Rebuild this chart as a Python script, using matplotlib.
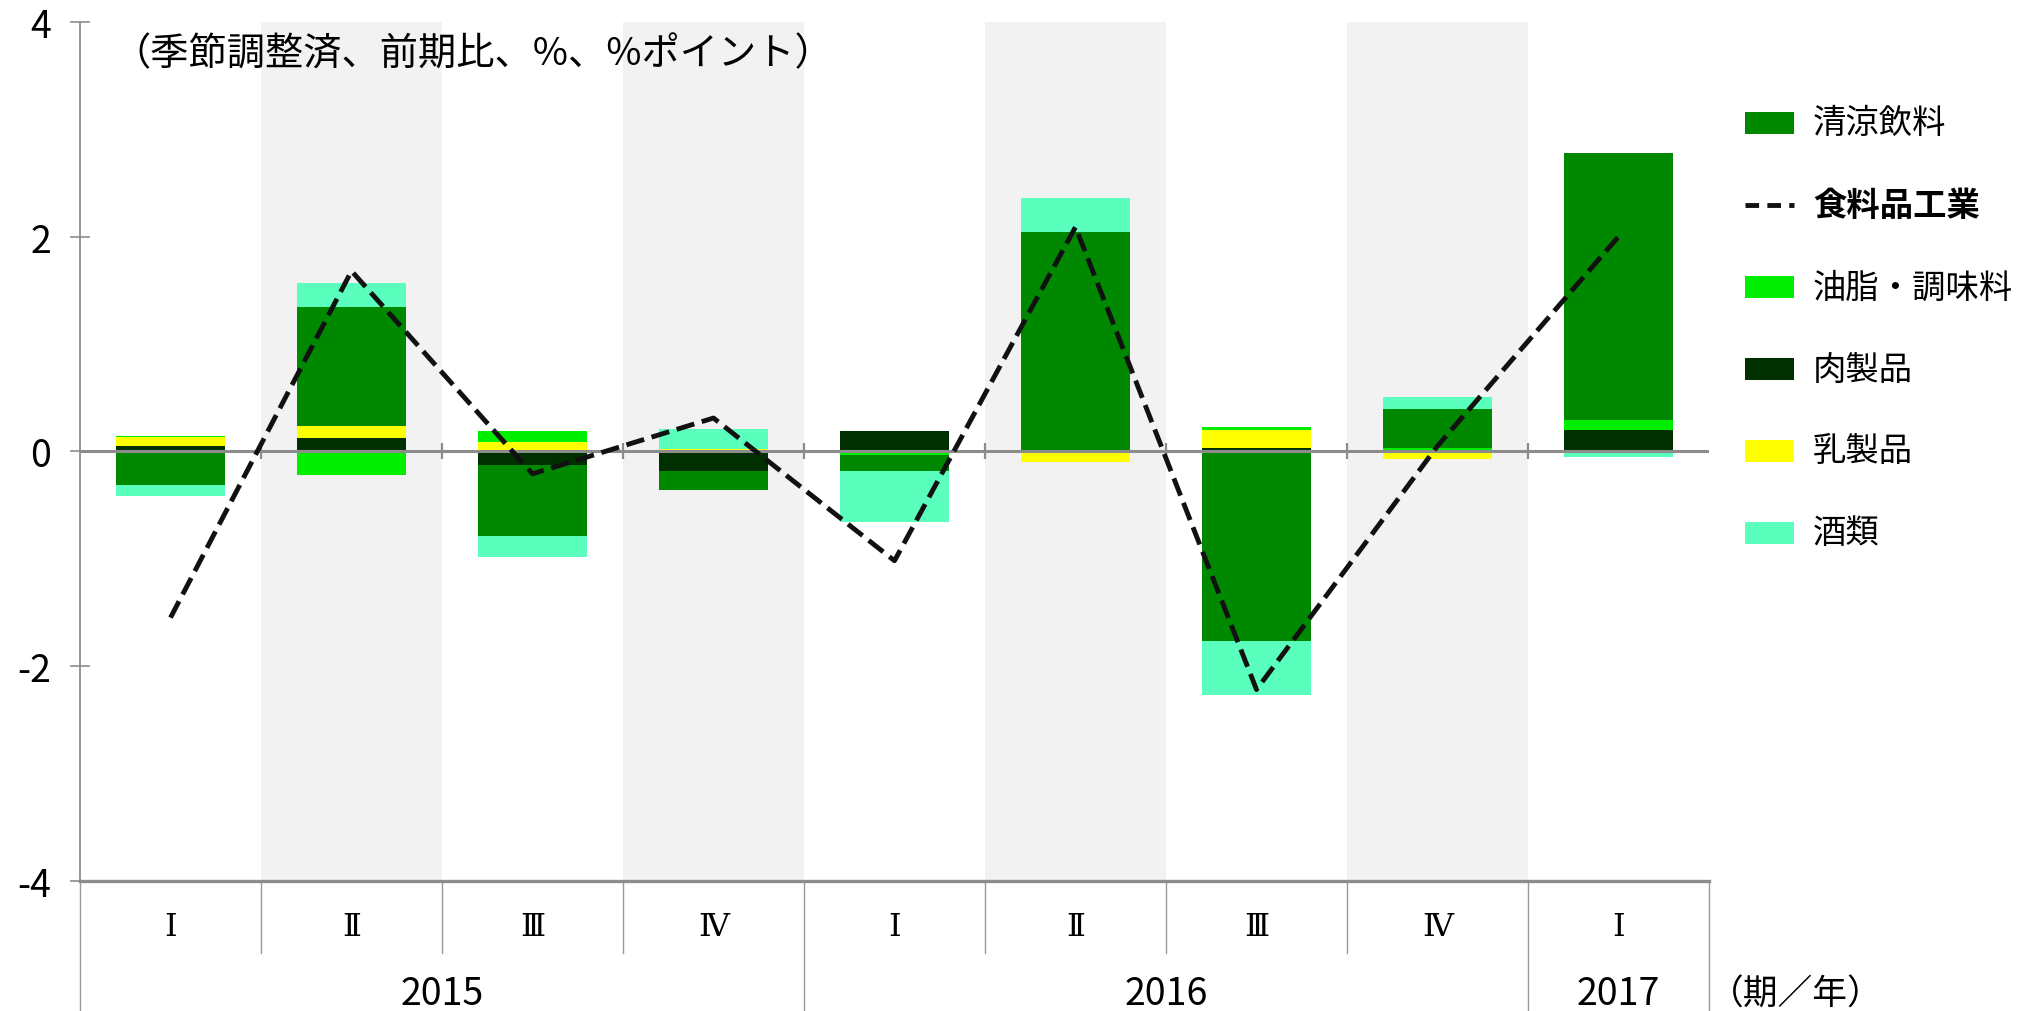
import numpy as np
import matplotlib
matplotlib.use('Agg')
import matplotlib.pyplot as plt
from matplotlib.patches import Rectangle
from matplotlib.lines import Line2D

# ---------------- data ----------------
quarters = ['Ⅰ', 'Ⅱ', 'Ⅲ', 'Ⅳ', 'Ⅰ', 'Ⅱ', 'Ⅲ', 'Ⅳ', 'Ⅰ']
years = ['2015', '2016', '2017']
year_first_q = [0, 4, 8]
year_last_q = [3, 7, 8]

soft_drinks = [-0.31, 1.105, -0.668, -0.18, -0.15, 2.04, -1.77, 0.363, 2.49]
food_industry = [-1.55, 1.68, -0.21, 0.31, -1.02, 2.09, -2.22, 0.05, 2.0]
oils_seasonings = [0.012, -0.217, 0.10, 0.0, -0.012, 0.0, 0.034, 0.03, 0.093]
meat_products = [0.05, 0.12, -0.124, -0.185, 0.19, -0.015, 0.034, 0.0, 0.2]
dairy_products = [0.08, 0.12, 0.09, 0.025, -0.02, -0.085, 0.16, -0.075, 0.0]
alcohol = [-0.105, 0.22, -0.193, 0.186, -0.48, 0.324, -0.50, 0.114, -0.05]

legend_names = ['清涼飲料', '食料品工業', '油脂・調味料', '肉製品', '乳製品', '酒類']
note_text = '（季節調整済、前期比、%、%ポイント）'
unit_text = '（期／年）'
ytick_values = [-4, -2, 0, 2, 4]
ytick_labels = ['-4', '-2', '0', '2', '4']

# ---------------- style ----------------
C_SOFT = '#008800'
C_OIL = '#00EE00'
C_MEAT = '#003000'
C_DAIRY = '#FFFF00'
C_ALC = '#5AFFBE'
C_SHADE = '#F2F2F2'
C_GRAY = '#8C8C8C'

JP = ['Noto Sans CJK JP', 'DejaVu Sans']
NUM = ['Liberation Sans Narrow', 'Noto Sans CJK JP', 'DejaVu Sans']
ROMAN = ['DejaVu Serif', 'Noto Sans CJK JP']
plt.rcParams['font.family'] = JP

W, H = 2027, 1012
fig = plt.figure(figsize=(W / 100, H / 100), dpi=100)
fig.patch.set_facecolor('white')

px_left, px_right, px_top, px_bot = 80, 1709, 23, 881.6
ax = fig.add_axes([px_left / W, 1 - px_bot / H, (px_right - px_left) / W, (px_bot - px_top) / H])

n = len(quarters)
x = np.arange(n)
ax.set_xlim(-0.5, n - 0.5)
ax.set_ylim(-4, 4)

# alternating shaded bands
for i in range(1, n, 2):
    ax.axvspan(i - 0.5, i + 0.5, color=C_SHADE, lw=0, zorder=0)

# stacked bars (positive and negative stacks separately)
stack = [(meat_products, C_MEAT), (dairy_products, C_DAIRY), (oils_seasonings, C_OIL),
         (soft_drinks, C_SOFT), (alcohol, C_ALC)]
pos = np.zeros(n)
neg = np.zeros(n)
for vals, col in stack:
    v = np.asarray(vals, dtype=float)
    p = np.where(v > 0, v, 0.0)
    q = np.where(v < 0, v, 0.0)
    ax.bar(x, p, 0.6, bottom=pos, color=col, linewidth=0, zorder=2)
    ax.bar(x, q, 0.6, bottom=neg, color=col, linewidth=0, zorder=2)
    pos += p
    neg += q

# zero line with small boundary ticks
ax.axhline(0, color=C_GRAY, lw=2.2, zorder=3)
bounds = np.arange(0.5, n - 0.5, 1.0)
ax.plot(bounds, np.zeros_like(bounds), ls='none', marker='|', ms=12, mew=1.6,
        color=C_GRAY, zorder=3)

# total line
ax.plot(x, food_industry, color='#111111', lw=3.5, dashes=(3.8, 1.6),
        dash_capstyle='butt', zorder=5)

# spines / ticks
for s in ['top', 'right']:
    ax.spines[s].set_visible(False)
ax.spines['left'].set_color(C_GRAY)
ax.spines['left'].set_linewidth(1.3)
ax.spines['bottom'].set_color(C_GRAY)
ax.spines['bottom'].set_linewidth(2.4)
ax.set_yticks(ytick_values)
ax.set_yticklabels(ytick_labels, family=NUM, fontsize=27)
ax.tick_params(axis='y', direction='inout', length=14, width=1.2, color=C_GRAY, pad=14)
ax.set_xticks([])

# category axis below
tr = ax.get_xaxis_transform()
for i, q in enumerate(quarters):
    ax.text(i, -0.054, q, transform=tr, ha='center', va='center', fontsize=23,
            family=ROMAN, clip_on=False)
year_bounds = set()
for a, b in zip(year_first_q, year_last_q):
    year_bounds.add(a - 0.5)
    year_bounds.add(b + 0.5)
for b in np.arange(-0.5, n, 1.0):
    if b in year_bounds:
        ax.plot([b, b], [0, -0.16], transform=tr, color='#9A9A9A', lw=1.0, clip_on=False)
    else:
        ax.plot([b, b], [0, -0.084], transform=tr, color='#9A9A9A', lw=1.0, clip_on=False)
for yl, a, b in zip(years, year_first_q, year_last_q):
    ax.text((a + b) / 2, -0.132, yl, transform=tr, ha='center', va='center',
            fontsize=27, family=NUM, clip_on=False)
ax.text(n - 0.5 + 0.0, -0.132, unit_text, transform=tr, ha='left', va='center',
        fontsize=25, clip_on=False)

# note
ax.text(0.020, 0.963, note_text, transform=ax.transAxes, ha='left', va='center',
        fontsize=27.5)

# legend (manual)
leg_colors = [C_SOFT, None, C_OIL, C_MEAT, C_DAIRY, C_ALC]
row_y = [124, 206, 288, 370, 452, 534]
for name, col, yc in zip(legend_names, leg_colors, row_y):
    yf = 1 - yc / H
    if col is None:
        fig.add_artist(Line2D([1745 / W, 1794 / W], [yf, yf], transform=fig.transFigure,
                              color='#111111', lw=3.5, dashes=(2.8, 1.7)))
        fig.text(1813 / W, yf, name, ha='left', va='center', fontsize=24, fontweight='bold')
    else:
        fig.add_artist(Rectangle((1745 / W, 1 - (yc + 11) / H), 49 / W, 22 / H,
                                 transform=fig.transFigure, facecolor=col, edgecolor='none'))
        fig.text(1813 / W, yf, name, ha='left', va='center', fontsize=24)

fig.savefig('out.png', dpi=100)
